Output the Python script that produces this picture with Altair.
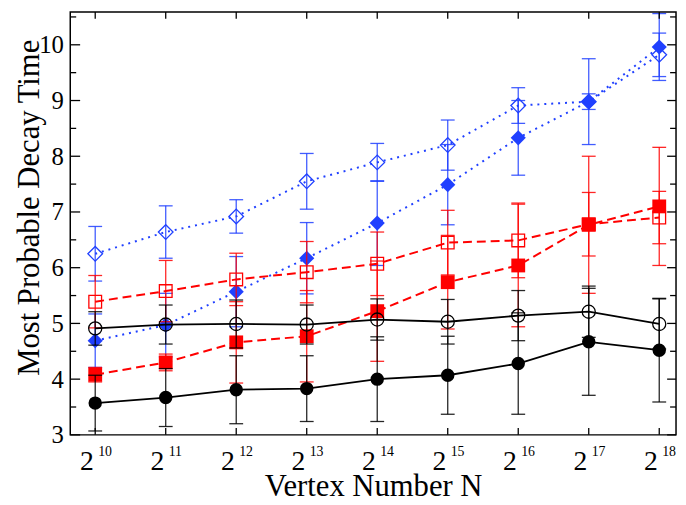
import altair as alt
import pandas as pd

# ---------------- data ----------------
exps = [10, 11, 12, 13, 14, 15, 16, 17, 18]
exp_labels = ["10", "11", "12", "13", "14", "15", "16", "17", "18"]

black_filled = [3.57, 3.67, 3.81, 3.83, 4.00, 4.07, 4.28, 4.67, 4.52]
black_filled_err = [0.50, 0.52, 0.61, 0.59, 0.76, 0.70, 0.91, 0.96, 0.93]
black_open = [4.91, 4.98, 4.99, 4.98, 5.07, 5.03, 5.14, 5.21, 4.99]
black_open_err = [0.30, 0.35, 0.43, 0.35, 0.37, 0.40, 0.45, 0.46, 0.45]
red_filled = [4.08, 4.30, 4.66, 4.77, 5.22, 5.74, 6.04, 6.77, 7.10]
red_filled_err = [0.13, 0.15, 0.73, 0.82, 0.90, 0.84, 1.10, 1.23, 1.06]
red_open = [5.39, 5.58, 5.79, 5.92, 6.07, 6.45, 6.49, 6.78, 6.90]
red_open_err = [0.47, 0.55, 0.47, 0.55, 0.57, 0.58, 0.67, 0.57, 0.47]
blue_filled = [4.69, 4.97, 5.57, 6.17, 6.80, 7.49, 8.33, 8.98, 9.96]
blue_filled_err = [0.48, 0.57, 0.63, 0.64, 0.76, 0.72, 0.67, 0.77, 0.60]
blue_open = [6.25, 6.64, 6.92, 7.55, 7.89, 8.20, 8.91, 8.98, 9.82]
blue_open_err = [0.49, 0.47, 0.30, 0.50, 0.34, 0.45, 0.32, 0.14, 0.39]

y_major = [3, 4, 5, 6, 7, 8, 9, 10]
y_minor = [3.5, 4.5, 5.5, 6.5, 7.5, 8.5, 9.5, 10.5]

# ---------------- layout ----------------
W, H = 613, 428
XMIN, XMAX = 9.646, 18.238
YMIN, YMAX = 3.0, 10.59
SERIF = "Liberation Serif"

BLUE = "#2040ff"
RED = "#ff0000"
BLACK = "#000000"

xscale = alt.Scale(domain=[XMIN, XMAX], nice=False, zero=False)
yscale = alt.Scale(domain=[YMIN, YMAX], nice=False, zero=False)

xaxis = alt.Axis(
    values=exps, labelExpr="'2'", labelFontSize=28, labelFont=SERIF,
    labelColor="black", labelAlign="right", labelOffset=-2,
    labelBaseline="alphabetic", labelPadding=35, labelFlush=False,
    labelOverlap=False, labelBound=False,
    ticks=False, tickSize=0, domain=False, grid=False,
    title="Vertex Number N", titleFontSize=31, titleFont=SERIF,
    titleFontWeight="normal", titleColor="black", titleY=61.5,
    titleBaseline="alphabetic",
)
yaxis = alt.Axis(
    values=y_major, format="d", labelFontSize=25, labelFont=SERIF,
    labelColor="black", labelPadding=7, labelFlush=False, labelOverlap=False,
    ticks=False, tickSize=0, domain=False, grid=False,
    title="Most Probable Decay Time", titleFontSize=31, titleFont=SERIF,
    titleFontWeight="normal", titleColor="black", titleX=-32, titleY=197.7,
    titleBaseline="alphabetic", titleAngle=270,
)


def X(field):
    return alt.X(f"{field}:Q", scale=xscale, axis=xaxis)


def Y(field):
    return alt.Y(f"{field}:Q", scale=yscale, axis=yaxis)


def series_df(vals, errs):
    return pd.DataFrame({
        "n": exps,
        "v": vals,
        "lo": [v - e for v, e in zip(vals, errs)],
        "hi": [v + e for v, e in zip(vals, errs)],
    })


def series_layers(vals, errs, color, dash, lw, shape, filled, size):
    df = series_df(vals, errs)
    base = alt.Chart(df)
    line_kw = dict(color=color, strokeWidth=lw)
    if dash:
        line_kw["strokeDash"] = dash
    line = base.mark_line(**line_kw).encode(x=X("n"), y=Y("v"))
    bar = base.mark_rule(color=color, strokeWidth=1.3, opacity=0.85).encode(
        x=X("n"), y=Y("lo"), y2="hi")
    cap_lo = base.mark_tick(color=color, orient="horizontal", size=14,
                            thickness=1.3, opacity=0.85).encode(x=X("n"), y=Y("lo"))
    cap_hi = base.mark_tick(color=color, orient="horizontal", size=14,
                            thickness=1.3, opacity=0.85).encode(x=X("n"), y=Y("hi"))
    if filled:
        pts = base.mark_point(shape=shape, filled=True, size=size, color=color,
                              opacity=1, strokeWidth=0)
    else:
        pts = base.mark_point(shape=shape, filled=False, size=size, color=color,
                              opacity=1, strokeWidth=1.3)
    pts = pts.encode(x=X("n"), y=Y("v"))
    return [line, bar, cap_lo, cap_hi, pts]


layers = []
layers += series_layers(blue_open, blue_open_err, BLUE, [2, 5], 2, "diamond", False, 220)
layers += series_layers(blue_filled, blue_filled_err, BLUE, [2, 5], 2, "diamond", True, 235)
layers += series_layers(red_open, red_open_err, RED, [9, 5], 2, "square", False, 165)
layers += series_layers(red_filled, red_filled_err, RED, [9, 5], 2, "square", True, 196)
layers += series_layers(black_open, black_open_err, BLACK, None, 1.8, "circle", False, 175)
layers += series_layers(black_filled, black_filled_err, BLACK, None, 1.8, "circle", True, 185)

# ---------------- inward ticks ----------------
ymaj_df = pd.DataFrame({"t": y_major})
ymin_df = pd.DataFrame({"t": y_minor})
xt_df = pd.DataFrame({"n": exps})

tick_style = dict(color="black", strokeWidth=1.3)
layers += [
    alt.Chart(ymaj_df).mark_rule(**tick_style).encode(y=Y("t"), x=alt.value(0), x2=alt.value(10)),
    alt.Chart(ymin_df).mark_rule(**tick_style).encode(y=Y("t"), x=alt.value(0), x2=alt.value(6)),
    alt.Chart(ymaj_df).mark_rule(**tick_style).encode(y=Y("t"), x=alt.value(W - 9), x2=alt.value(W)),
    alt.Chart(ymin_df).mark_rule(**tick_style).encode(y=Y("t"), x=alt.value(W - 6), x2=alt.value(W)),
    alt.Chart(xt_df).mark_rule(**tick_style).encode(x=X("n"), y=alt.value(H), y2=alt.value(H - 7)),
    alt.Chart(xt_df).mark_rule(**tick_style).encode(x=X("n"), y=alt.value(0), y2=alt.value(7)),
]

# ---------------- exponents of the x tick labels ----------------
exp_df = pd.DataFrame({"n": exps, "lab": exp_labels})
layers.append(
    alt.Chart(exp_df).mark_text(font=SERIF, fontSize=14, align="left",
                                baseline="alphabetic", dx=3, color="black")
    .encode(x=X("n"), y=alt.value(H + 21.0), text="lab:N")
)

chart = alt.layer(*layers).properties(
    width=W, height=H,
    autosize=alt.AutoSizeParams(type="none"),
    padding={"left": 63, "top": 1, "right": 2, "bottom": 68},
    background="white",
).configure_view(stroke="black", strokeWidth=1.5)

chart.save("out.html", embed_options={"renderer": "svg", "actions": False})
